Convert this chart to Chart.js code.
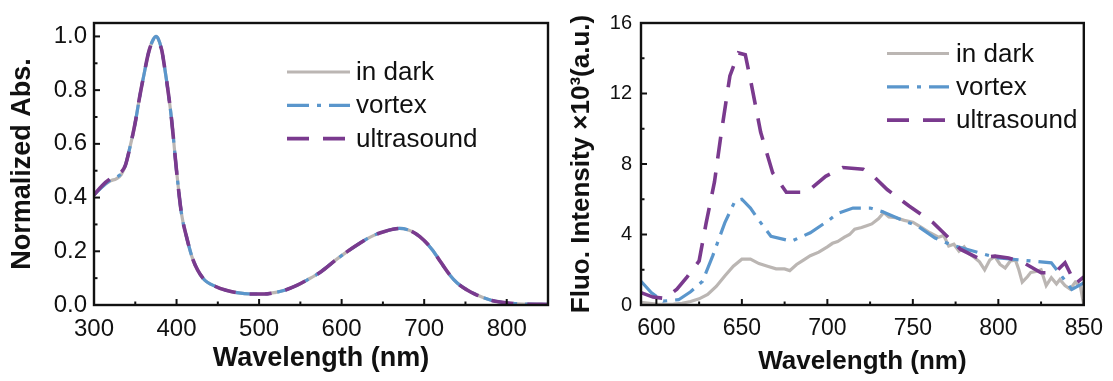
<!DOCTYPE html>
<html><head><meta charset="utf-8">
<script src="https://cdn.jsdelivr.net/npm/chart.js@4.4.1/dist/chart.umd.min.js"></script>
<style>
html,body{margin:0;padding:0;background:#fff;}
#wrap{position:relative;width:1113px;height:381px;background:#fff;}
#c1box{position:absolute;left:0;top:0;width:560px;height:381px;}
#c2box{position:absolute;left:560px;top:0;width:553px;height:381px;}
</style></head><body>
<div id="wrap">
<div id="c1box"><canvas id="c1" width="560" height="381"></canvas></div>
<div id="c2box"><canvas id="c2" width="553" height="381"></canvas></div>
</div>
<script>
// ---------- Data: normalized absorbance ----------
const absWavelength = [300,310,320,327,333,338,343,350,355,360,367,372,375,378,382,386,390,394,400,406,412,420,432,448,460,473,490,506,520,532,545,558,575,593,605,619,630,641,652,662,670,680,690,700,710,720,731,740,752,762,772,782,792,802,812,825,850];
const absDark = [0.41,0.44,0.462,0.47,0.485,0.52,0.58,0.68,0.77,0.85,0.95,0.99,1.0,0.99,0.95,0.875,0.79,0.69,0.50,0.34,0.255,0.168,0.10,0.068,0.055,0.046,0.041,0.041,0.047,0.056,0.072,0.093,0.124,0.168,0.195,0.224,0.245,0.262,0.274,0.282,0.285,0.28,0.265,0.24,0.205,0.16,0.112,0.082,0.056,0.04,0.027,0.017,0.011,0.007,0.005,0.003,0.002];
const absVortex = [0.41,0.44,0.465,0.475,0.49,0.52,0.58,0.68,0.77,0.85,0.95,0.99,1.0,0.99,0.95,0.875,0.79,0.69,0.50,0.34,0.255,0.168,0.10,0.068,0.055,0.046,0.041,0.041,0.047,0.056,0.072,0.093,0.124,0.168,0.195,0.224,0.245,0.262,0.274,0.282,0.285,0.28,0.265,0.24,0.205,0.16,0.112,0.082,0.056,0.04,0.027,0.017,0.011,0.007,0.005,0.003,0.002];
const absUltrasound = [0.41,0.445,0.47,0.48,0.495,0.52,0.58,0.68,0.77,0.85,0.95,0.98,0.98,0.975,0.95,0.875,0.79,0.69,0.50,0.34,0.255,0.168,0.10,0.068,0.055,0.046,0.041,0.041,0.047,0.056,0.072,0.093,0.124,0.168,0.195,0.224,0.245,0.262,0.274,0.282,0.285,0.28,0.265,0.24,0.205,0.16,0.112,0.082,0.056,0.04,0.027,0.017,0.011,0.007,0.005,0.003,0.002];

// ---------- Data: fluorescence (x10^3 a.u.) ----------
const darkFluoX = [591,596,600,605,610,615,620,625,630,635,640,645,650,655,660,665,670,675,678,682,686,690,695,700,703,706,710,713,716,720,723,726,730,733,736,740,745,750,755,760,765,768,771,774,777,780,783,786,789,792,795,798,801,804,807,810,812,814,817,819,822,825,828,831,834,836,839,842,845,848,850];
const darkFluoY = [0.15,0.1,0.05,0.03,0.05,0.1,0.2,0.35,0.6,1.05,1.65,2.2,2.6,2.6,2.35,2.2,2.05,2.05,1.95,2.3,2.55,2.8,3.0,3.3,3.5,3.6,3.85,4.0,4.3,4.4,4.5,4.6,4.9,5.25,5.0,4.95,4.8,4.7,4.4,4.1,3.85,3.95,3.35,3.45,3.05,3.3,2.9,2.7,2.45,2.0,2.55,2.75,2.3,2.1,2.5,2.55,2.0,1.3,1.6,1.85,1.9,2.0,1.1,1.55,1.2,1.45,1.1,0.9,1.3,1.05,0.0];
const vortexFluoX = [591,597,604,613,620,627,633,640,646,650,655,660,667,679,690,700,706,715,725,732,743,753,763,772,782,792,800,810,820,831,837,843,850];
const vortexFluoY = [1.35,0.7,0.22,0.3,0.75,1.35,2.8,4.66,5.9,6.0,5.5,4.8,3.9,3.62,4.1,4.75,5.2,5.5,5.5,5.3,4.85,4.47,3.8,3.43,3.15,2.87,2.67,2.58,2.49,2.39,1.64,0.88,1.26];
const ultraFluoX = [591,598,605,612,618,625,629,634,638,643,648,652,655,661,668,676,688,699,709,721,727,735,748,762,770,778,788,798,806,815,825,833,839,845,850];
const ultraFluoY = [0.7,0.45,0.37,0.9,1.6,2.5,4.6,7.0,9.8,13.0,14.3,14.2,12.8,9.8,7.5,6.4,6.4,7.3,7.8,7.7,7.3,6.55,5.6,4.66,3.9,3.15,2.67,2.77,2.67,2.39,1.83,1.83,2.4,1.2,1.6];

// ---------- Labels ----------
const seriesLabels = ['in dark','vortex','ultrasound'];
const absXTitle = 'Wavelength (nm)';
const absYTitle = 'Normalized Abs.';
const fluoXTitle = 'Wavelength (nm)';
const fluoYTitle = 'Fluo. Intensity \u00d710\u00b3(a.u.)';

const FONT = "'Liberation Sans', Arial, Helvetica, sans-serif";
const INK = '#111111';
const C_DARK = '#bbb6b3', C_VORTEX = '#5a96cc', C_ULTRA = '#7a3a8e';

function zip(xs, ys){ return xs.map((x,i)=>({x:x, y:ys[i]})); }

const frameTicks = {
  id: 'frameTicks',
  afterDatasetsDraw(chart, args, o){
    const {ctx, chartArea:a, scales:{x, y}} = chart;
    ctx.save();
    ctx.strokeStyle = INK; ctx.lineWidth = 2; ctx.setLineDash([]);
    const draw = (scale, minor, major, horiz) => {
      const k0 = Math.ceil(scale.min/minor - 1e-9), k1 = Math.floor(scale.max/minor + 1e-9);
      for (let k=k0;k<=k1;k++){
        const v = k*minor;
        const r = v/major; const isMaj = Math.abs(r-Math.round(r))<1e-6;
        const len = isMaj ? 6 : 3.5;
        const p = scale.getPixelForValue(v);
        ctx.beginPath();
        if (horiz){ ctx.moveTo(p, a.bottom); ctx.lineTo(p, a.bottom-len); }
        else { ctx.moveTo(a.left, p); ctx.lineTo(a.left+len, p); }
        ctx.stroke();
      }
    };
    draw(x, o.xMinor, o.xMajor, true);
    draw(y, o.yMinor, o.yMajor, false);
    ctx.lineWidth = 2.4;
    ctx.strokeRect(a.left, a.top, a.right-a.left, a.bottom-a.top);
    ctx.restore();
  }
};

const inLegend = {
  id: 'inLegend',
  afterDraw(chart, args, o){
    const ctx = chart.ctx;
    ctx.save();
    ctx.font = o.font; ctx.textBaseline = 'middle'; ctx.textAlign = 'left'; ctx.fillStyle = INK;
    chart.data.datasets.forEach((ds,i)=>{
      const y = o.y0 + i*o.dy;
      ctx.beginPath(); ctx.setLineDash(ds.borderDash || []);
      ctx.strokeStyle = ds.borderColor; ctx.lineWidth = ds.borderWidth;
      ctx.moveTo(o.x0, y); ctx.lineTo(o.x1, y); ctx.stroke();
      ctx.setLineDash([]);
      ctx.fillText(ds.label, o.tx, y+1);
    });
    ctx.restore();
  }
};

function datasets(dark, vortex, ultra, smooth){
  const common = {pointRadius:0, fill:false, tension: 0, cubicInterpolationMode: smooth ? 'monotone' : 'default'};
  return [
    Object.assign({label: seriesLabels[0], data: dark, borderColor: C_DARK, borderWidth: 3.2, borderDash: [], order: 3}, common),
    Object.assign({label: seriesLabels[1], data: vortex, borderColor: C_VORTEX, borderWidth: 3.2, borderDash: [22,8,4,8], order: 2}, common),
    Object.assign({label: seriesLabels[2], data: ultra, borderColor: C_ULTRA, borderWidth: 3.6, borderDash: [22,14], order: 1}, common)
  ];
}

function makeOptions(cfg){
  return {
    responsive: false, animation: false, events: [],
    layout: {padding: {left: 0, right: cfg.padRight, top: cfg.padTop, bottom: 0}},
    plugins: {legend: {display:false}, tooltip: {enabled:false},
      frameTicks: cfg.ticks, inLegend: cfg.legend},
    scales: {
      x: {type:'linear', min: cfg.xMin, max: cfg.xMax,
        afterFit(s){ s.height = cfg.xHeight; },
        grid: {display:false, drawTicks:false}, border: {display:false},
        ticks: {stepSize: cfg.xStep, includeBounds:false, autoSkip:false, maxRotation:0, padding: cfg.xPad, color: INK,
          font: {family: FONT, size: cfg.xTickSize}, callback: v => String(Math.round(v))},
        title: {display:true, text: cfg.xTitle, color: INK, font: {family: FONT, size: cfg.titleSize, weight:'bold'}, padding: {top:0, bottom: cfg.xTitlePad}}
      },
      y: {type:'linear', min: cfg.yMin, max: cfg.yMax,
        afterFit(s){ s.width = cfg.yWidth; },
        grid: {display:false, drawTicks:false}, border: {display:false},
        ticks: {stepSize: cfg.yStep, includeBounds:false, autoSkip:false, padding: cfg.yPad, color: INK,
          font: {family: FONT, size: cfg.yTickSize}, callback: cfg.yFmt},
        title: {display:true, text: cfg.yTitle, color: INK, font: {family: FONT, size: cfg.titleSize, weight:'bold'}, padding: {top: cfg.yTitlePad, bottom:0}}
      }
    }
  };
}

new Chart(document.getElementById('c1'), {
  type: 'line',
  data: {datasets: datasets(zip(absWavelength, absDark), zip(absWavelength, absVortex), zip(absWavelength, absUltrasound), true)},
  options: makeOptions({padRight: 12, padTop: 23, xMin: 300, xMax: 850, xStep: 100, xHeight: 76, xPad: 10, xTickSize: 24,
    xTitle: absXTitle, titleSize: 27, xTitlePad: 6, yMin: 0, yMax: 1.05, yStep: 0.2, yWidth: 94, yPad: 7, yTickSize: 24,
    yFmt: v => v.toFixed(1), yTitle: absYTitle, yTitlePad: 6,
    ticks: {xMinor: 50, xMajor: 100, yMinor: 0.1, yMajor: 0.2},
    legend: {x0: 287, x1: 350, tx: 356, y0: 72, dy: 33.3, font: "26px " + FONT}}),
  plugins: [frameTicks, inLegend]
});

new Chart(document.getElementById('c2'), {
  type: 'line',
  data: {datasets: datasets(zip(darkFluoX, darkFluoY), zip(vortexFluoX, vortexFluoY), zip(ultraFluoX, ultraFluoY), false)},
  options: makeOptions({padRight: 22, padTop: 23, xMin: 591, xMax: 850, xStep: 50, xHeight: 76, xPad: 10, xTickSize: 23,
    xTitle: fluoXTitle, titleSize: 26, xTitlePad: 4, yMin: 0, yMax: 16, yStep: 4, yWidth: 81, yPad: 9, yTickSize: 20,
    yFmt: v => String(Math.round(v)), yTitle: fluoYTitle, yTitlePad: 6,
    ticks: {xMinor: 25, xMajor: 50, yMinor: 2, yMajor: 4},
    legend: {x0: 327, x1: 389, tx: 396, y0: 53.5, dy: 33.3, font: "26px " + FONT}}),
  plugins: [frameTicks, inLegend]
});
</script>
</body></html>
